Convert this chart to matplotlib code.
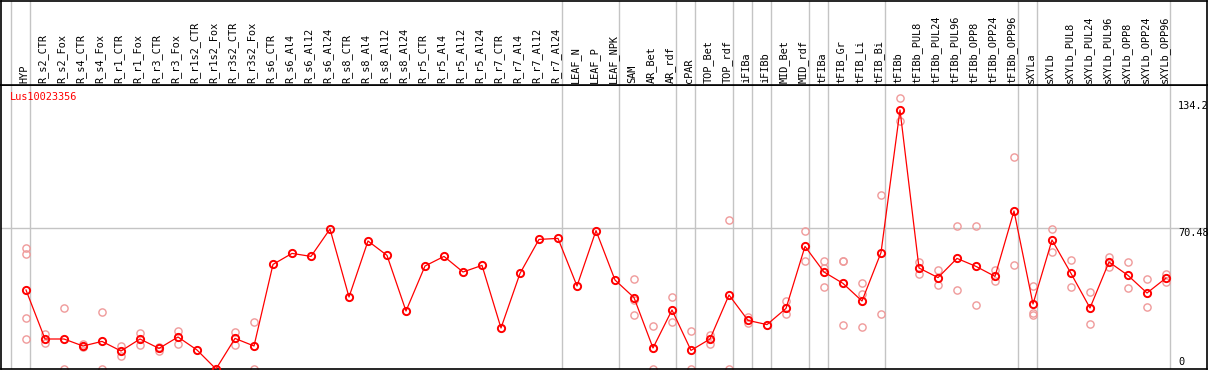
import matplotlib
matplotlib.use("Agg")
import matplotlib.pyplot as plt
import matplotlib.transforms as mtransforms

gene = "Lus10023356"

samples = [
    "HYP", "R_s2_CTR", "R_s2_Fox", "R_s4_CTR", "R_s4_Fox", "R_r1_CTR", "R_r1_Fox",
    "R_r3_CTR", "R_r3_Fox", "R_r1s2_CTR", "R_r1s2_Fox", "R_r3s2_CTR", "R_r3s2_Fox",
    "R_s6_CTR", "R_s6_Al4", "R_s6_Al12", "R_s6_Al24", "R_s8_CTR", "R_s8_Al4",
    "R_s8_Al12", "R_s8_Al24", "R_r5_CTR", "R_r5_Al4", "R_r5_Al12", "R_r5_Al24",
    "R_r7_CTR", "R_r7_Al4", "R_r7_Al12", "R_r7_Al24", "LEAF_N", "LEAF_P", "LEAF_NPK",
    "SAM", "AR_Bet", "AR_rdf", "cPAR", "TOP_Bet", "TOP_rdf", "iFIBa", "iFIBb",
    "MID_Bet", "MID_rdf", "tFIBa", "tFIB_Gr", "tFIB_Li", "tFIB_Bi", "tFIBb",
    "tFIBb_PUL8", "tFIBb_PUL24", "tFIBb_PUL96", "tFIBb_OPP8", "tFIBb_OPP24",
    "tFIBb_OPP96", "sXYLa", "sXYLb", "sXYLb_PUL8", "sXYLb_PUL24", "sXYLb_PUL96",
    "sXYLb_OPP8", "sXYLb_OPP24", "sXYLb_OPP96",
]

# mean expression per sample
means = [
    39.5, 15.0, 15.0, 11.5, 13.8, 9.0, 15.0, 10.3, 16.0, 9.5, 0.0, 15.3, 11.5,
    52.3, 57.8, 56.3, 70.0, 36.0, 64.0, 56.8, 29.0, 51.5, 56.3, 48.5, 51.8,
    20.5, 47.8, 64.8, 65.3, 41.5, 69.2, 44.5,
    35.7, 10.5, 29.5, 9.3, 15.0, 37.0, 24.3, 22.2, 30.3, 61.3,
    48.5, 42.8, 34.0, 58.2, 129.5, 50.5, 45.7, 55.3, 51.3, 46.3, 79.0,
    32.5, 64.5, 47.8, 30.5, 53.5, 46.8, 38.0, 45.5,
]

# individual replicates (light circles)
reps = [
    [60.3, 57.3, 25.7, 15.0], [17.3, 12.8], [30.7, 0.0], [12.3, 10.8], [28.3, 0.0],
    [11.5, 6.7], [18.0, 11.8], [11.2, 9.0], [19.0, 12.3], [], [], [18.7, 11.8], [23.3, 0.0],
    [], [], [], [], [], [], [], [], [], [], [], [], [], [], [], [], [], [], [],
    [45.0, 34.5, 27.0], [21.5, 0.0], [36.0, 23.3], [18.8, 0.0], [17.0, 12.7], [74.5, 0.0],
    [26.2, 22.8], [], [34.0, 27.3], [69.0, 54.0],
    [54.0, 50.5, 41.0], [54.0, 54.0, 22.0], [42.8, 37.5, 21.0], [87.0, 27.3],
    [135.3, 124.0], [53.7, 47.3], [49.7, 42.0], [71.3, 39.5], [71.3, 32.0], [49.5, 44.0],
    [106.0, 51.8],
    [41.5, 28.2, 27.0], [70.0, 58.7], [54.5, 41.0], [38.3, 22.5], [55.8, 51.0],
    [53.5, 40.3], [45.0, 31.0], [47.3, 43.7],
]

# group separators sit just after these sample indices
group_ends = [-1, 0, 28, 31, 34, 35, 37, 38, 39, 41, 42, 45, 52, 53, 60]
yticks = [0, 70.48, 134.2]

W, H = 1209, 370
fig = plt.figure(figsize=(W / 100, H / 100), dpi=100)
mono = "DejaVu Sans Mono"
grey = "#c4c4c4"
fs = 7.4

ax = fig.add_axes([1 / W, 1 / H, 1206 / W, 284 / H])
axh = fig.add_axes([1 / W, 285 / H, 1206 / W, 84.5 / H])

xlim = ((1 - 26) / 19, (1207 - 26) / 19)
for a in (ax, axh):
    a.set_xlim(*xlim)
    a.set_xticks([])
    a.set_yticks([])
    for s in a.spines.values():
        s.set_color("black")
        s.set_linewidth(1.2)
    for g in group_ends:
        a.axvline(g + 0.22, color=grey, lw=1.0, zorder=0)
axh.set_ylim(0, 1)
ax.set_ylim(0, 142)

ax.axhline(yticks[1], color=grey, lw=1.0, zorder=0)

x = list(range(len(samples)))
for i, r in enumerate(reps):
    if r:
        ax.plot([i] * len(r), r, "o", ms=5.2, mfc="none", mec="#ef9a9a", mew=1.0, zorder=2)
ax.plot(x, means, "-", color="red", lw=0.9, zorder=3)
ax.plot(x, means, "o", ms=5.2, mfc="none", mec="red", mew=1.4, zorder=4)

for i, name in enumerate(samples):
    axh.text(i - 0.1, 0.025, name, rotation=90, ha="center", va="bottom",
             family=mono, fontsize=fs, color="black")

tr = mtransforms.blended_transform_factory(ax.transData, ax.transAxes)
ax.text((10 - 26) / 19, 0.975, gene, transform=tr, ha="left", va="top",
        family=mono, fontsize=fs, color="red")

lx = (1178 - 26) / 19
ax.text(lx, yticks[2], f"{yticks[2]}", ha="left", va="top", family=mono, fontsize=fs)
ax.text(lx, yticks[1], f"{yticks[1]}", ha="left", va="top", family=mono, fontsize=fs)
ax.text(lx, yticks[0] + 1.2, f"{yticks[0]}", ha="left", va="bottom", family=mono, fontsize=fs)

fig.savefig("out.png", dpi=100)
